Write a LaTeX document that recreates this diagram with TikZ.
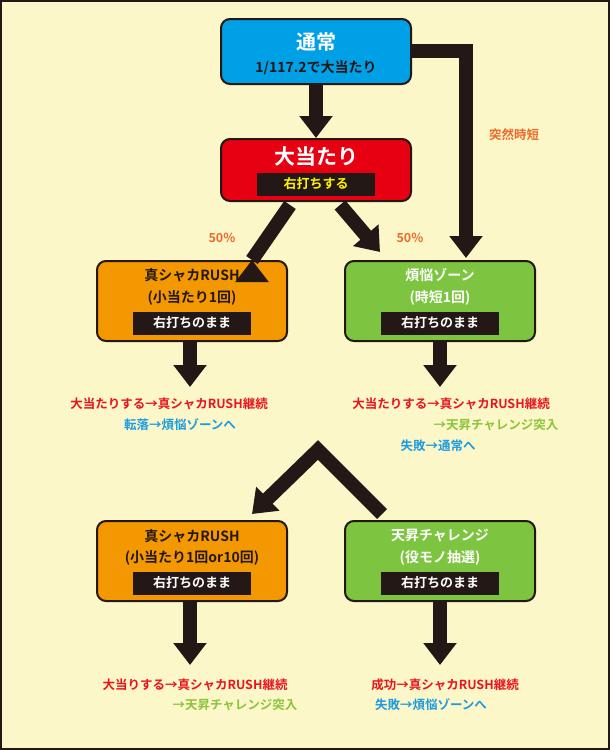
\documentclass[tikz,border=0pt]{standalone}
\usepackage{fontspec}
\setmainfont{Noto Sans CJK JP}[BoldFont={Noto Sans CJK JP Bold}]
\usetikzlibrary{arrows.meta,positioning}
\definecolor{paper}{HTML}{FBF7C9}
\definecolor{ink}{HTML}{231815}
\definecolor{cblue}{HTML}{00A0E6}
\definecolor{cred}{HTML}{E60012}
\definecolor{corange}{HTML}{F39800}
\definecolor{cgreen}{HTML}{7DC540}
\definecolor{ctext}{HTML}{E8141E}
\definecolor{ctblue}{HTML}{1E9BE0}
\definecolor{ctgreen}{HTML}{8CC43C}
\definecolor{clabel}{HTML}{EE6A2A}
\tikzset{
  box/.style={draw=ink,line width=2pt,rounded corners=9pt,minimum width=190pt,anchor=north},
  bar/.style={fill=ink,inner sep=2pt,minimum width=118pt,minimum height=23pt,font=\bfseries\fontsize{13}{13}\selectfont},
  big/.style={draw=ink,line width=14pt,-{Triangle[width=32pt,length=22pt]}},
  note/.style={font=\bfseries\fontsize{12.5}{13}\selectfont,inner sep=0pt}
}
\begin{document}
\begin{tikzpicture}[x=1pt,y=-1pt]
\draw[fill=paper,draw=ink,line width=2pt] (1,1) rectangle (609,749);
\useasboundingbox (0,0) rectangle (610,750);
% top
\node[box,fill=cblue,minimum height=65pt] (normal) at (316,18) {};
\node[font=\bfseries\fontsize{20}{20}\selectfont,text=white] (normalT) at (316,42) {通常};
\node[font=\bfseries\fontsize{14}{14}\selectfont,text=ink] (normalS) at (316,68) {1/117.2で大当たり};
\node[box,fill=cred,minimum height=62pt] (hit) at (316,138) {};
\node[font=\bfseries\fontsize{21}{21}\selectfont,text=white] (hitT) at (316,157) {大当たり};
\node[bar,text=yellow] (hitB) at (316,184) {右打ちする};
\draw[big] (normal.south) -- (hit.north);
% second row
\node[box,fill=corange,minimum height=80pt] (rush) at (192,260) {};
\node[note,font=\bfseries\fontsize{14}{14}\selectfont,text=ink] at (192,275) {真シャカRUSH};
\node[note,font=\bfseries\fontsize{14}{14}\selectfont,text=ink] at (192,298) {(小当たり1回)};
\node[bar,text=white] (rushB) at (192,323) {右打ちのまま};
\node[box,fill=cgreen,minimum height=80pt] (zone) at (440,260) {};
\node[note,font=\bfseries\fontsize{14}{14}\selectfont,text=white] at (440,275) {煩悩ゾーン};
\node[note,font=\bfseries\fontsize{14}{14}\selectfont,text=white] at (440,298) {(時短1回)};
\node[bar,text=white] (zoneB) at (440,323) {右打ちのまま};
\coordinate (hitL) at (290,205);
\coordinate (hitR) at (340,205);
\draw[big] (hitL) -- (rush.north -| 252,0) ++(0,0);
\draw[big] (hitR) -- (380,252);
\node[note,text=clabel] at (222,238) {50\%};
\node[note,text=clabel] at (410,238) {50\%};
\draw[big,rounded corners=0pt] (normal.east |- 0,51) -- (466,51) -- (466,258);
\node[note,text=clabel] at (514,135) {突然時短};
% results of second row
\coordinate (rushE) at (190,387);
\coordinate (zoneE) at (440,387);
\draw[big] (rush.south -| rushE) -- (rushE);
\draw[big] (zone.south -| zoneE) -- (zoneE);
\node[note,text=ctext] at (169,404) {大当たりする→真シャカRUSH継続};
\node[note,text=ctblue] at (180,425) {転落→煩悩ゾーンへ};
\node[note,text=ctext] at (451,404) {大当たりする→真シャカRUSH継続};
\node[note,text=ctgreen] at (496,425) {→天昇チャレンジ突入};
\node[note,text=ctblue] at (438,446) {失敗→通常へ};
% split
\coordinate (apex) at (318,450);
\draw[big,-{Triangle[width=32pt,length=22pt]},{Triangle[width=32pt,length=22pt]}-,line join=miter] (252,514) -- (apex) -- (382,514);
% third row
\node[box,fill=corange,minimum height=80pt] (rush2) at (192,520) {};
\node[note,font=\bfseries\fontsize{14}{14}\selectfont,text=ink] at (192,536) {真シャカRUSH};
\node[note,font=\bfseries\fontsize{14}{14}\selectfont,text=ink] at (192,558) {(小当たり1回or10回)};
\node[bar,text=white] (rush2B) at (192,583) {右打ちのまま};
\node[box,fill=cgreen,minimum height=80pt] (chal) at (440,520) {};
\node[note,font=\bfseries\fontsize{14}{14}\selectfont,text=white] at (440,536) {天昇チャレンジ};
\node[note,font=\bfseries\fontsize{14}{14}\selectfont,text=white] at (440,558) {(役モノ抽選)};
\node[bar,text=white] (chalB) at (440,583) {右打ちのまま};
\coordinate (rush2E) at (190,665);
\coordinate (chalE) at (440,665);
\draw[big] (rush2.south -| rush2E) -- (rush2E);
\draw[big] (chal.south -| chalE) -- (chalE);
\node[note,text=ctext] at (195,685) {大当りする→真シャカRUSH継続};
\node[note,text=ctgreen] at (235,705) {→天昇チャレンジ突入};
\node[note,text=ctext] at (445,685) {成功→真シャカRUSH継続};
\node[note,text=ctblue] at (431,705) {失敗→煩悩ゾーンへ};
\end{tikzpicture}
\end{document}
